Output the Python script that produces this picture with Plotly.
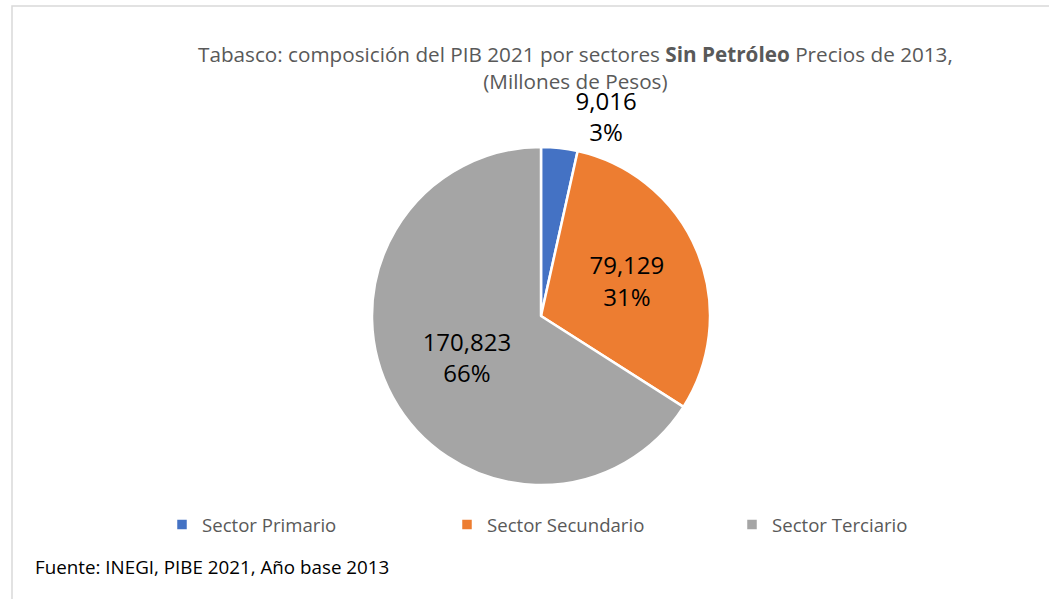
import plotly.graph_objects as go

categories = ["Sector Primario", "Sector Secundario", "Sector Terciario"]
values = [9016, 79129, 170823]
colors = ["#4472C4", "#ED7D31", "#A5A5A5"]
title_line1 = "Tabasco: composición del PIB 2021 por sectores <b>Sin Petróleo</b> Precios de 2013,"
title_line2 = "(Millones de Pesos)"
source_text = "Fuente: INEGI, PIBE 2021, Año base 2013"

W, H = 1049, 599
FONT = "Open Sans, sans-serif"

fig = go.Figure()
fig.add_trace(go.Pie(
    labels=categories,
    values=values,
    sort=False,
    direction="clockwise",
    rotation=0,
    marker=dict(colors=colors, line=dict(color="white", width=2.5)),
    texttemplate="%{value:,.0f}<br>%{percent:.0%}",
    textposition=["outside", "inside", "inside"],
    insidetextorientation="horizontal",
    textfont=dict(family=FONT, size=24, color="black"),
    domain=dict(x=[372 / W, 710 / W], y=[(H - 485) / H, (H - 147) / H]),
    hoverinfo="label+value+percent",
))

fig.add_annotation(
    text=title_line1 + "<br>" + title_line2,
    x=575 / W, y=1 - 38 / H, xref="paper", yref="paper",
    xanchor="center", yanchor="top", showarrow=False,
    font=dict(family=FONT, size=20.7, color="#595959"),
)
fig.add_annotation(
    text=source_text,
    x=33 / W, y=1 - 567 / H, xref="paper", yref="paper",
    xanchor="left", yanchor="middle", showarrow=False,
    font=dict(family=FONT, size=18.8, color="black"),
)
fig.add_shape(
    type="rect", xref="paper", yref="paper",
    x0=12 / W, x1=1.05, y0=-0.05, y1=1 - 6 / H,
    line=dict(color="#D9D9D9", width=1.5), fillcolor="rgba(0,0,0,0)",
)

fig.update_layout(
    width=W, height=H,
    margin=dict(l=0, r=0, t=0, b=0),
    paper_bgcolor="white",
    plot_bgcolor="white",
    showlegend=True,
    legend=dict(
        orientation="h",
        x=162 / W, y=1 - 525 / H, xanchor="left", yanchor="middle",
        font=dict(family=FONT, size=18.6, color="#595959"),
        entrywidth=240, entrywidthmode="pixels",
        itemclick=False,
    ),
)

fig.write_html("out.html", config={"displayModeBar": False},
               post_script="document.body.style.margin='0';")
